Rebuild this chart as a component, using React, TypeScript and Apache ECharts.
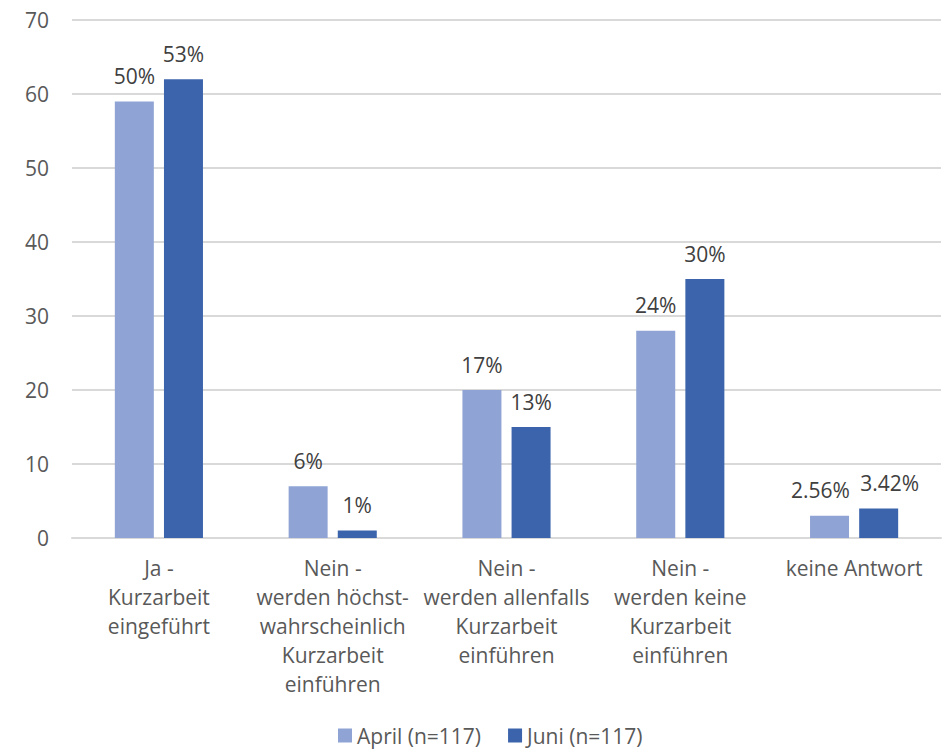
import React, { useEffect, useRef } from "react";
import * as echarts from "echarts";

const categories = [
  "Ja -\nKurzarbeit\neingeführt",
  "Nein -\nwerden höchst-\nwahrscheinlich\nKurzarbeit\neinführen",
  "Nein -\nwerden allenfalls\nKurzarbeit\neinführen",
  "Nein -\nwerden keine\nKurzarbeit\neinführen",
  "keine Antwort",
];
const aprilValues = [59, 7, 20, 28, 3];
const juniValues = [62, 1, 15, 35, 4];
const aprilLabels = ["50%", "6%", "17%", "24%", "2.56%"];
const juniLabels = ["53%", "1%", "13%", "30%", "3.42%"];
const seriesNames = ["April (n=117)", "Juni (n=117)"];

const FONT = "'Open Sans', 'Liberation Sans', sans-serif";

// Horizontal nudges so the two labels of the last (narrow) group don't collide.
const lastGroupShift = [-9, 11];

export default function App() {
  const ref = useRef<HTMLDivElement>(null);

  useEffect(() => {
    if (!ref.current) return;
    const chart = echarts.init(ref.current, null, { renderer: "svg" });
    const labelStyle = {
      show: true,
      position: "top" as const,
      distance: 15,
      color: "#404040",
      fontSize: 21,
      fontFamily: FONT,
    };
    const toData = (values: number[], shift: number) =>
      values.map((v, i) =>
        i === values.length - 1 ? { value: v, label: { offset: [shift, 0] } } : v
      );
    chart.setOption({
      animation: false,
      color: ["#8FA3D4", "#3C64AC"],
      grid: { left: 72, right: 8, top: 20, bottom: 211, containLabel: false },
      legend: {
        top: 725,
        left: 338,
        padding: 0,
        itemWidth: 14,
        itemHeight: 14,
        itemGap: 27,
        icon: "rect",
        textStyle: { color: "#595959", fontSize: 21, fontFamily: FONT },
        data: seriesNames,
      },
      xAxis: {
        type: "category",
        data: categories,
        axisLine: { lineStyle: { color: "#D9D9D9", width: 2 } },
        axisTick: { show: false },
        axisLabel: {
          interval: 0,
          margin: 15,
          color: "#595959",
          fontSize: 21,
          fontFamily: FONT,
          lineHeight: 29,
        },
      },
      yAxis: {
        type: "value",
        min: 0,
        max: 70,
        interval: 10,
        axisLine: { show: false },
        axisTick: { show: false },
        splitLine: { lineStyle: { color: "#D9D9D9", width: 2 } },
        axisLabel: { margin: 23, color: "#595959", fontSize: 21, fontFamily: FONT },
      },
      series: [
        {
          name: seriesNames[0],
          type: "bar",
          data: toData(aprilValues, lastGroupShift[0]),
          barWidth: 39,
          barGap: "26%",
          label: { ...labelStyle, formatter: (p: any) => aprilLabels[p.dataIndex] },
        },
        {
          name: seriesNames[1],
          type: "bar",
          data: toData(juniValues, lastGroupShift[1]),
          barWidth: 39,
          barGap: "26%",
          label: { ...labelStyle, formatter: (p: any) => juniLabels[p.dataIndex] },
        },
      ],
    });
    return () => chart.dispose();
  }, []);

  return (
    <div
      ref={ref}
      style={{ position: "absolute", left: 0, top: 0, width: 949, height: 749 }}
    />
  );
}
